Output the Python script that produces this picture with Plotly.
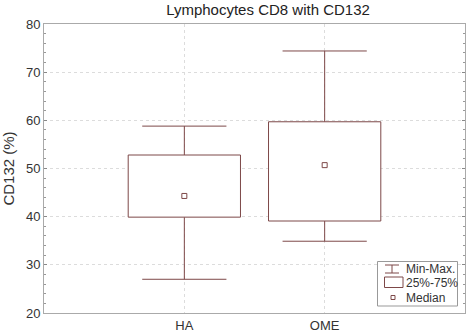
import plotly.graph_objects as go

categories = ["HA", "OME"]
mins = [27.0, 34.9]
q1s = [39.9, 39.1]
medians = [44.3, 50.7]
q3s = [52.8, 59.7]
maxs = [58.8, 74.4]

COL = "#7d4848"
BOX_HALF = 0.4
CAP_HALF = 0.3

W, H = 466, 334
ML, MR, MT, MB = 44, 1, 24, 21
PW, PH = W - ML - MR, H - MT - MB


def px(x):
    return (x - ML) / PW


def py(y):
    return (H - MB - y) / PH


fig = go.Figure()

# whiskers (Min-Max)
wx, wy = [], []
for i in range(len(categories)):
    wx += [i, i, None, i, i, None, i - CAP_HALF, i + CAP_HALF, None, i - CAP_HALF, i + CAP_HALF, None]
    wy += [maxs[i], q3s[i], None, q1s[i], mins[i], None, maxs[i], maxs[i], None, mins[i], mins[i], None]
fig.add_trace(go.Scatter(x=wx, y=wy, mode="lines", line=dict(color=COL, width=1),
                         name="Min-Max.", hoverinfo="skip", showlegend=False))

# boxes (25%-75%)
bx, by = [], []
for i in range(len(categories)):
    bx += [i - BOX_HALF, i + BOX_HALF, i + BOX_HALF, i - BOX_HALF, i - BOX_HALF, None]
    by += [q1s[i], q1s[i], q3s[i], q3s[i], q1s[i], None]
fig.add_trace(go.Scatter(x=bx, y=by, mode="lines", line=dict(color=COL, width=1),
                         fill="toself", fillcolor="rgba(255,255,255,1)",
                         name="25%-75%", hoverinfo="skip", showlegend=False))

# medians
fig.add_trace(go.Scatter(x=list(range(len(categories))), y=medians, mode="markers",
                         marker=dict(symbol="square-open", size=5, color=COL, line=dict(width=1)),
                         name="Median", showlegend=False))

# manual legend (paper coordinates)
shapes = [
    dict(type="rect", xref="paper", yref="paper", x0=px(377.5), x1=px(457.5), y0=py(306), y1=py(261.5),
         line=dict(color="#999999", width=1), fillcolor="white", layer="above"),
    # Min-Max icon
    dict(type="line", xref="paper", yref="paper", x0=px(385), x1=px(399), y0=py(265), y1=py(265),
         line=dict(color=COL, width=1), layer="above"),
    dict(type="line", xref="paper", yref="paper", x0=px(385), x1=px(399), y0=py(273), y1=py(273),
         line=dict(color=COL, width=1), layer="above"),
    dict(type="line", xref="paper", yref="paper", x0=px(392), x1=px(392), y0=py(265), y1=py(273),
         line=dict(color=COL, width=1), layer="above"),
    # 25%-75% icon
    dict(type="rect", xref="paper", yref="paper", x0=px(384.5), x1=px(403), y0=py(287.5), y1=py(277),
         line=dict(color=COL, width=1), fillcolor="white", layer="above"),
    # Median icon
    dict(type="rect", xref="paper", yref="paper", x0=px(391), x1=px(395), y0=py(299.5), y1=py(295.5),
         line=dict(color=COL, width=1), fillcolor="white", layer="above"),
]
annotations = [
    dict(text=t, xref="paper", yref="paper", x=px(404), y=py(yy), xanchor="left", yanchor="middle",
         showarrow=False, font=dict(size=12, color="#333333"))
    for t, yy in [("Min-Max.", 268.5), ("25%-75%", 282.5), ("Median", 297.5)]
]

axis_common = dict(showline=True, linecolor="#aaaaaa", linewidth=1,
                   showgrid=True, gridcolor="#dcdcdc", griddash="dot", gridwidth=1,
                   zeroline=False, automargin=False)

fig.update_layout(
    width=W, height=H,
    margin=dict(l=ML, r=MR, t=MT, b=MB, autoexpand=False),
    paper_bgcolor="white", plot_bgcolor="white",
    font=dict(family="Liberation Sans, Arial, sans-serif", size=13, color="#333333"),
    title=dict(text="Lymphocytes CD8 with CD132", x=268 / W, xanchor="center", y=1 - 10 / H,
               yanchor="middle", font=dict(size=15, color="#222222")),
    xaxis=dict(range=[-1, 2], tickvals=list(range(len(categories))), ticktext=categories,
               ticks="", tickfont=dict(size=13), mirror=True, **axis_common),
    yaxis=dict(range=[20, 80], dtick=10, ticks="inside", ticklen=3, tickcolor="#888888",
               tickfont=dict(size=13), mirror="ticks",
               minor=dict(dtick=2, ticks="inside", ticklen=2, tickcolor="#999999", showgrid=False),
               title=dict(text="CD132 (%)", font=dict(size=15), standoff=8),
               **axis_common),
    shapes=shapes,
    annotations=annotations,
    showlegend=False,
)

fig.write_html("out.html", config={"displayModeBar": False, "staticPlot": True},
               post_script="document.body.style.margin='0';document.body.style.overflow='hidden';")
